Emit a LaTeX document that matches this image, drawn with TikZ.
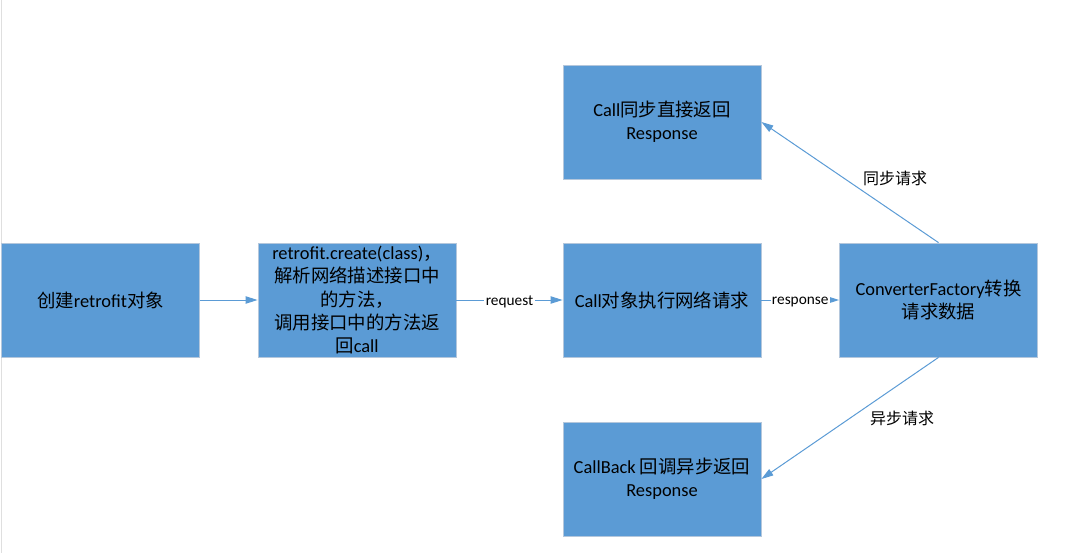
\documentclass[tikz,border=0pt]{standalone}
\usepackage{fontspec}
\setmainfont{Carlito}
\newfontfamily\cjk{Noto Sans CJK SC}
\newcommand{\zh}[1]{{\cjk #1}}
\usetikzlibrary{arrows.meta}
\definecolor{boxblue}{HTML}{5B9BD5}
\definecolor{boxedge}{HTML}{B4C7DC}
\tikzset{
  flowbox/.style={rectangle,fill=boxblue,draw=boxedge,line width=0.6pt,minimum width=148.5pt,minimum height=85.5pt,inner sep=0pt,align=center,font=\fontsize{13.8pt}{17.6pt}\selectfont},
  flowarrow/.style={draw=boxblue,line width=0.75pt,-{Triangle[length=9pt,width=5.5pt]}},
  edgelabel/.style={fill=white,inner sep=1pt,yshift=-1.5pt,font=\fontsize{11.5pt}{13pt}\selectfont},
  sidelabel/.style={inner sep=0pt,font=\fontsize{12pt}{14pt}\selectfont}
}
\begin{document}
\begin{tikzpicture}[x=0.75pt,y=-0.75pt]
  \useasboundingbox (0,0) rectangle (1066,553);
  \draw[gray!25,line width=0.75pt] (1.5,0)--(1.5,553);
  % main row
  \node[flowbox] (create) at (100.5,300) {\zh{创建}retrofit\zh{对象}};
  \node[flowbox] (parse) at (357,300) {retrofit.create(class)\zh{，}\\\zh{解析网络描述接口中}\\\zh{的方法，}\\\zh{调用接口中的方法返}\\\zh{回}call};
  \node[flowbox] (call) at (662,300) {Call\zh{对象执行网络请求}};
  \node[flowbox] (conv) at (938.5,300) {ConverterFactory\zh{转换}\\\zh{请求数据}};
  % results
  \node[flowbox] (sync) at (662,122) {Call\zh{同步直接返回}\\Response};
  \node[flowbox] (async) at (662,479) {CallBack \zh{回调异步返回}\\Response};
  % connectors
  \draw[flowarrow] (create) -- (parse);
  \draw[flowarrow] (parse) -- node[edgelabel] {request} (call);
  \draw[flowarrow] (call) -- node[edgelabel] {response} (conv);
  \draw[flowarrow] (conv.north) -- (sync.east);
  \draw[flowarrow] (conv.south) -- (async.east);
  \node[sidelabel] (synclabel) at (895,178) {\zh{同步请求}};
  \node[sidelabel] (asynclabel) at (902,418) {\zh{异步请求}};
\end{tikzpicture}
\end{document}
